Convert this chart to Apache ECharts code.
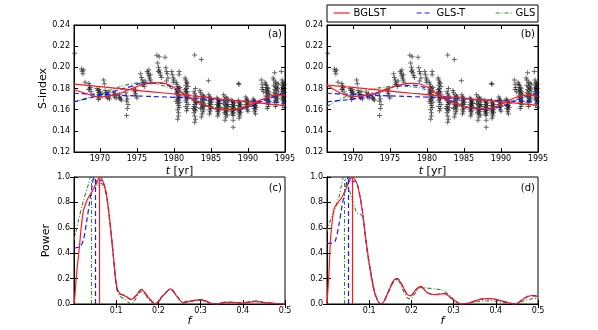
<!DOCTYPE html>
<html>
<head>
<meta charset="utf-8">
<script src="https://cdn.jsdelivr.net/npm/echarts@6/dist/echarts.min.js"></script>
<style>
html, body { margin: 0; padding: 0; background: #fff; }
#chart { width: 598px; height: 330px; }
</style>
</head>
<body>
<div id="chart"></div>
<script>
// ---- data ----
const yearTicks = [1970, 1975, 1980, 1985, 1990, 1995];
const freqTicks = [0.1, 0.2, 0.3, 0.4, 0.5];

// S-index observations (same in panels a and b)
const sIndexObs = [
  [1966.6,.2132],
  [1967.5,.1985],[1967.6,.1962],[1967.8,.1975],[1967.7,.1940],[1968.0,.1860],
  [1968.5,.1848],[1968.6,.1825],[1968.7,.1810],[1968.5,.1790],[1968.8,.1770],[1968.6,.1795],
  [1969.6,.1800],[1969.7,.1780],[1969.8,.1760],[1969.9,.1740],[1969.7,.1720],[1970.0,.1710],[1969.8,.1695],[1970.1,.1750],[1969.9,.1790],[1970.0,.1770],
  [1970.5,.1880],[1970.6,.1845],[1970.7,.1780],[1970.8,.1760],[1970.9,.1730],[1971.0,.1710],[1970.8,.1745],[1971.1,.1770],[1971.2,.1720],[1971.3,.1700],
  [1971.8,.1765],[1971.9,.1740],[1972.0,.1720],[1972.2,.1710],[1972.1,.1750],
  [1972.6,.1745],[1972.7,.1720],[1972.8,.1700],[1972.9,.1690],[1972.6,.1710],
  [1973.5,.1760],[1973.6,.1730],[1973.7,.1700],[1973.6,.1680],[1973.8,.1650],[1973.7,.1610],[1973.6,.1546],
  [1974.6,.1795],[1974.7,.1770],[1974.8,.1750],[1974.9,.1730],[1975.0,.1710],[1974.8,.1785],
  [1975.5,.1940],[1975.6,.1905],[1975.7,.1880],[1975.8,.1860],[1975.9,.1840],[1976.0,.1820],[1975.7,.1835],[1976.1,.1870],
  [1976.4,.1960],[1976.5,.1945],[1976.6,.1920],[1976.7,.1900],[1976.8,.1880],[1976.9,.1860],[1976.6,.1975],[1976.8,.1930],
  [1977.7,.2115],[1978.0,.2100],[1977.8,.2040],[1977.9,.2000],[1978.0,.1975],[1978.1,.1950],[1978.2,.1925],[1977.9,.1960],[1978.3,.1905],
  [1978.8,.2095],[1978.9,.1995],[1979.0,.1960],[1979.1,.1940],[1979.2,.1900],[1979.0,.1870],
  [1979.7,.1960],[1979.8,.1930],[1979.9,.1900],[1980.0,.1880],[1979.9,.1860],
  [1980.3,.1860],[1980.4,.1840],[1980.5,.1820],[1980.6,.1800],[1980.4,.1790],[1980.7,.1780],[1980.5,.1760],[1980.3,.1750],[1980.6,.1740],[1980.8,.1730],
  [1980.4,.1720],[1980.7,.1710],[1980.5,.1700],[1980.6,.1690],[1980.3,.1680],[1980.8,.1670],[1980.5,.1660],[1980.6,.1640],[1980.7,.1620],[1980.5,.1600],
  [1980.6,.1570],[1980.6,.1540],[1980.5,.1510],[1980.4,.1770],[1980.8,.1810],[1980.7,.1960],[1980.7,.1930],
  [1981.5,.1900],[1981.6,.1880],[1981.7,.1860],[1981.8,.1850],[1981.6,.1830],[1981.9,.1820],[1981.7,.1800],[1981.5,.1790],[1981.8,.1770],[1981.6,.1760],
  [1981.9,.1740],[1981.7,.1730],[1981.5,.1720],[1981.8,.1700],[1981.6,.1690],[1981.7,.1670],[1981.9,.1650],[1981.6,.1630],[1981.8,.1610],[1981.7,.1590],
  [1981.6,.1775],[1981.8,.1715],
  [1982.8,.2116],[1982.7,.1770],[1982.8,.1750],[1982.9,.1730],[1983.0,.1720],[1982.6,.1700],[1982.7,.1690],[1982.9,.1670],[1983.1,.1660],[1982.8,.1650],
  [1982.7,.1630],[1983.0,.1620],[1982.8,.1600],[1982.9,.1590],[1982.7,.1570],[1982.8,.1540],[1982.9,.1510],[1982.8,.1480],[1983.0,.1680],[1982.6,.1610],[1982.9,.1800],
  [1983.7,.2075],[1983.5,.1780],[1983.6,.1760],[1983.8,.1740],[1984.0,.1730],[1983.7,.1710],[1983.9,.1700],[1984.1,.1690],[1983.6,.1680],[1983.8,.1670],
  [1984.0,.1660],[1983.7,.1650],[1983.9,.1640],[1984.1,.1630],[1983.8,.1620],[1983.6,.1610],[1984.0,.1600],[1983.9,.1580],[1983.8,.1560],[1983.7,.1530],[1984.1,.1720],
  [1984.65,.1874],[1984.7,.1740],[1984.8,.1720],[1984.9,.1710],[1985.0,.1700],[1984.7,.1690],[1984.9,.1680],[1985.1,.1670],[1984.8,.1660],[1985.0,.1650],
  [1984.7,.1640],[1984.9,.1630],[1985.0,.1610],[1984.8,.1600],[1984.9,.1580],[1984.8,.1560],
  [1985.8,.1710],[1985.9,.1700],[1986.0,.1690],[1986.1,.1680],[1985.9,.1670],[1986.2,.1660],[1985.8,.1650],[1986.0,.1640],[1986.1,.1630],[1985.9,.1620],
  [1986.0,.1610],[1985.8,.1600],[1986.1,.1590],[1985.9,.1580],[1986.0,.1560],[1985.9,.1540],[1986.1,.1655],
  [1986.7,.1740],[1986.9,.1720],[1987.1,.1710],[1987.3,.1700],[1986.8,.1690],[1987.0,.1680],[1987.2,.1670],[1986.7,.1660],[1986.9,.1650],[1987.1,.1640],
  [1987.3,.1630],[1986.8,.1620],[1987.0,.1610],[1987.2,.1600],[1986.9,.1590],[1987.1,.1580],[1986.8,.1570],[1987.0,.1560],[1987.2,.1550],[1987.0,.1530],
  [1986.9,.1500],[1987.3,.1650],
  [1987.8,.1690],[1987.9,.1680],[1988.0,.1670],[1988.1,.1660],[1987.9,.1650],[1988.2,.1640],[1987.8,.1630],[1988.0,.1620],[1988.1,.1610],[1987.9,.1600],
  [1988.0,.1590],[1987.8,.1580],[1988.1,.1570],[1987.9,.1560],[1988.0,.1545],[1988.0,.1500],[1988.0,.1433],
  [1988.7,.1848],[1988.8,.1840],[1988.7,.1690],[1988.8,.1670],[1988.9,.1660],[1989.0,.1650],[1988.7,.1640],[1988.9,.1630],[1989.1,.1620],[1988.8,.1610],
  [1989.0,.1600],[1988.7,.1590],[1988.9,.1580],[1989.0,.1570],[1988.8,.1560],[1988.9,.1540],[1988.8,.1520],
  [1989.7,.1720],[1989.8,.1700],[1989.9,.1690],[1990.0,.1680],[1989.8,.1670],[1990.1,.1660],[1989.7,.1650],[1989.9,.1640],[1990.0,.1630],[1989.8,.1620],
  [1989.9,.1600],[1990.0,.1585],
  [1990.7,.1700],[1990.8,.1690],[1990.9,.1680],[1991.0,.1670],[1991.1,.1660],[1990.8,.1650],[1991.0,.1640],[1990.9,.1630],[1991.1,.1620],[1990.8,.1610],
  [1991.0,.1600],[1990.9,.1580],[1991.0,.1560],
  [1991.8,.1880],[1991.9,.1840],[1992.0,.1810],[1991.9,.1790],[1992.1,.1770],
  [1992.3,.1860],[1992.4,.1840],[1992.5,.1830],[1992.6,.1810],[1992.7,.1800],[1992.4,.1790],[1992.6,.1780],[1992.8,.1770],[1992.5,.1760],[1992.7,.1750],
  [1992.9,.1740],[1992.4,.1730],[1992.6,.1720],[1992.8,.1710],[1992.5,.1700],[1992.7,.1690],[1992.9,.1680],[1992.6,.1670],[1992.8,.1650],[1992.7,.1630],[1992.6,.1610],
  [1993.6,.1950],[1993.4,.1900],[1993.5,.1880],[1993.7,.1860],[1993.9,.1850],[1994.1,.1840],[1993.5,.1830],[1993.7,.1820],[1993.9,.1810],[1994.0,.1800],
  [1993.6,.1790],[1993.8,.1780],[1994.1,.1770],[1993.5,.1760],[1993.7,.1750],[1993.9,.1740],[1994.0,.1730],[1993.6,.1720],[1993.8,.1710],[1994.0,.1700],
  [1993.7,.1690],[1993.9,.1680],[1993.6,.1670],[1993.8,.1650],[1993.7,.1630],
  [1994.5,.1960],[1994.6,.1880],[1994.7,.1860],[1994.8,.1850],[1994.9,.1840],[1994.6,.1830],[1994.8,.1820],[1994.7,.1810],[1994.9,.1800],[1994.6,.1790],
  [1994.8,.1780],[1994.7,.1770],[1994.9,.1760],[1994.6,.1750],[1994.8,.1740],[1994.7,.1730],[1994.9,.1720],[1994.6,.1710],[1994.8,.1700],[1994.7,.1690],
  [1994.9,.1680],[1994.8,.1660],[1994.7,.1640],[1994.9,.1620]
];

// fitted models, sampled at these years
const fitYears = [1966.5, 1968, 1970, 1972, 1974, 1976, 1978, 1980, 1982, 1984, 1986, 1988, 1990, 1992, 1994, 1995];
// panel (a)
const bglstA      = [0.1790, 0.1755, 0.1720, 0.1740, 0.1790, 0.1840, 0.1855, 0.1810, 0.1720, 0.1650, 0.1605, 0.1600, 0.1640, 0.1700, 0.1740, 0.1738];
const bglstTrendA = [0.1842, 0.1832, 0.1818, 0.1804, 0.1790, 0.1776, 0.1762, 0.1748, 0.1734, 0.1718, 0.1702, 0.1688, 0.1674, 0.1660, 0.1646, 0.1640];
const glstA       = [0.1675, 0.1700, 0.1735, 0.1775, 0.1815, 0.1850, 0.1850, 0.1800, 0.1720, 0.1650, 0.1605, 0.1600, 0.1625, 0.1680, 0.1735, 0.1765];
const glstTrendA  = [0.1755, 0.1750, 0.1745, 0.1738, 0.1732, 0.1727, 0.1722, 0.1717, 0.1710, 0.1700, 0.1692, 0.1685, 0.1680, 0.1675, 0.1668, 0.1665];
const glsA        = [0.1670, 0.1705, 0.1750, 0.1800, 0.1840, 0.1855, 0.1835, 0.1790, 0.1720, 0.1660, 0.1620, 0.1615, 0.1640, 0.1690, 0.1740, 0.1760];
// panel (b)
const bglstB      = [0.1833, 0.1770, 0.1725, 0.1738, 0.1780, 0.1828, 0.1848, 0.1815, 0.1715, 0.1655, 0.1618, 0.1610, 0.1650, 0.1715, 0.1738, 0.1725];
const bglstTrendB = [0.1833, 0.1823, 0.1810, 0.1796, 0.1783, 0.1769, 0.1755, 0.1742, 0.1728, 0.1715, 0.1701, 0.1688, 0.1674, 0.1661, 0.1647, 0.1640];
const glstB       = [0.1675, 0.1685, 0.1700, 0.1725, 0.1775, 0.1820, 0.1830, 0.1800, 0.1730, 0.1660, 0.1615, 0.1605, 0.1630, 0.1685, 0.1740, 0.1760];
const glstTrendB  = [0.1755, 0.1750, 0.1745, 0.1738, 0.1733, 0.1728, 0.1723, 0.1718, 0.1712, 0.1705, 0.1698, 0.1692, 0.1686, 0.1680, 0.1674, 0.1671];
const glsB        = [0.1630, 0.1690, 0.1745, 0.1785, 0.1810, 0.1822, 0.1815, 0.1785, 0.1720, 0.1660, 0.1620, 0.1612, 0.1635, 0.1690, 0.1740, 0.1755];

// periodograms [f, power]
const bglstPowC = [[0,0],[0.002,0.06],[0.0064,0.25],[0.0125,0.44],[0.017,0.6],[0.022,0.73],[0.03,0.81],[0.036,0.85],[0.042,0.88],[0.048,0.92],[0.054,0.96],[0.0615,1.0],[0.069,0.96],[0.077,0.86],[0.085,0.65],[0.093,0.39],[0.101,0.14],[0.109,0.08],[0.117,0.07],[0.125,0.055],[0.136,0.035],[0.148,0.07],[0.16,0.115],[0.172,0.07],[0.182,0.03],[0.193,0],[0.205,0.045],[0.215,0.08],[0.229,0.12],[0.244,0.06],[0.259,0.01],[0.275,0.02],[0.29,0.03],[0.3,0.033],[0.31,0.027],[0.322,0.008],[0.338,0],[0.36,0.013],[0.38,0.012],[0.4,0.008],[0.416,0.016],[0.432,0.021],[0.448,0.013],[0.472,0.005],[0.5,0]];
const glstPowC  = [[0,0.44],[0.008,0.445],[0.0142,0.45],[0.022,0.5],[0.03,0.65],[0.036,0.78],[0.042,0.91],[0.0475,1.0],[0.052,0.97],[0.0575,0.94],[0.063,0.975],[0.069,0.96],[0.077,0.86],[0.085,0.65],[0.093,0.39],[0.101,0.13],[0.109,0.08],[0.117,0.07],[0.125,0.055],[0.136,0.035],[0.148,0.07],[0.16,0.115],[0.172,0.07],[0.182,0.03],[0.193,0],[0.205,0.045],[0.215,0.08],[0.229,0.12],[0.244,0.06],[0.259,0.01],[0.275,0.02],[0.29,0.03],[0.3,0.035],[0.31,0.028],[0.322,0.008],[0.338,0],[0.36,0.015],[0.38,0.013],[0.4,0.009],[0.416,0.017],[0.432,0.022],[0.448,0.013],[0.472,0.005],[0.5,0]];
const glsPowC   = [[0,0.5],[0.01,0.65],[0.022,0.81],[0.034,0.94],[0.0395,1.0],[0.045,0.99],[0.05,0.97],[0.055,0.93],[0.06,0.94],[0.065,0.95],[0.07,0.93],[0.077,0.85],[0.085,0.64],[0.093,0.38],[0.101,0.12],[0.109,0.06],[0.12,0.04],[0.13,0.01],[0.136,0],[0.148,0.05],[0.16,0.1],[0.172,0.06],[0.185,0.01],[0.195,0],[0.21,0.06],[0.228,0.115],[0.244,0.06],[0.258,0.015],[0.27,0.025],[0.28,0.03],[0.3,0.03],[0.32,0.01],[0.338,0],[0.36,0.012],[0.38,0.01],[0.4,0.008],[0.43,0.018],[0.45,0.01],[0.5,0]];
const bglstPowD = [[0,0],[0.0047,0.25],[0.0086,0.52],[0.0166,0.75],[0.0245,0.79],[0.036,0.845],[0.044,0.9],[0.052,0.96],[0.06,1.0],[0.066,0.98],[0.072,0.94],[0.078,0.85],[0.084,0.73],[0.0917,0.52],[0.0996,0.33],[0.1075,0.18],[0.115,0.07],[0.127,0],[0.135,0.02],[0.147,0.11],[0.159,0.19],[0.1668,0.197],[0.1786,0.144],[0.19,0.075],[0.198,0.065],[0.21,0.11],[0.222,0.139],[0.238,0.087],[0.2576,0.074],[0.2775,0.082],[0.297,0.04],[0.317,0],[0.337,0.008],[0.3605,0.034],[0.384,0.042],[0.408,0.029],[0.4317,0.008],[0.447,0],[0.463,0.034],[0.483,0.065],[0.5,0.06]];
const glstPowD  = [[0,0.477],[0.0126,0.48],[0.02,0.5],[0.028,0.62],[0.036,0.78],[0.044,0.91],[0.0505,1.0],[0.056,0.98],[0.061,0.96],[0.066,0.97],[0.072,0.94],[0.078,0.85],[0.084,0.73],[0.0917,0.52],[0.0996,0.33],[0.1075,0.18],[0.115,0.07],[0.127,0],[0.135,0.02],[0.147,0.11],[0.159,0.19],[0.1668,0.2],[0.1786,0.145],[0.19,0.075],[0.198,0.065],[0.21,0.11],[0.222,0.14],[0.238,0.088],[0.2576,0.075],[0.2775,0.083],[0.297,0.04],[0.317,0],[0.337,0.008],[0.3605,0.035],[0.384,0.043],[0.408,0.03],[0.4317,0.008],[0.447,0],[0.463,0.035],[0.483,0.068],[0.5,0.062]];
const glsPowD   = [[0,0.57],[0.008,0.66],[0.0166,0.73],[0.028,0.84],[0.034,0.93],[0.0395,1.0],[0.045,0.97],[0.052,0.91],[0.058,0.84],[0.064,0.78],[0.07,0.72],[0.078,0.71],[0.085,0.68],[0.0917,0.5],[0.0996,0.31],[0.1075,0.16],[0.115,0.06],[0.127,0],[0.135,0.02],[0.147,0.1],[0.159,0.18],[0.1668,0.19],[0.1786,0.12],[0.19,0.05],[0.198,0.04],[0.21,0.09],[0.222,0.13],[0.238,0.125],[0.2576,0.118],[0.274,0.11],[0.29,0.07],[0.305,0.02],[0.317,0],[0.337,0.005],[0.36,0.02],[0.384,0.025],[0.408,0.02],[0.43,0.005],[0.447,0],[0.463,0.02],[0.483,0.04],[0.5,0.045]];

// peak frequencies [BGLST, GLS-T, GLS]
const peaksC = [0.0615, 0.048, 0.0395];
const peaksD = [0.0605, 0.0505, 0.0405];

// ---- styling ----
const FONT = 'DejaVu Sans';
const RED = '#ff1a1a', BLUE = '#1a1aff', GREEN = '#2a8a2a';
const styles = {
  BGLST:  { color: RED,   type: 'solid', width: 1.2 },
  'GLS-T':{ color: BLUE,  type: [5, 3],  width: 1.2 },
  GLS:    { color: GREEN, type: [4, 2, 1, 2], width: 1.1 }
};
const grids = [
  { left: 74,  top: 25,  width: 211, height: 127 },
  { left: 327, top: 25,  width: 211, height: 127 },
  { left: 74,  top: 177, width: 211, height: 127 },
  { left: 327, top: 177, width: 211, height: 127 }
];

const tickStyle = { inside: true, length: 4, lineStyle: { color: '#000' } };
const lineAxis = { show: true, lineStyle: { color: '#000', width: 1 } };
const lbl = { color: '#000', fontSize: 8, fontFamily: FONT };

let xAxes = [], yAxes = [];
function addAxes(g, isTime, yName) {
  const xBase = {
    gridIndex: g, type: 'value',
    min: isTime ? 1966.5 : 0, max: isTime ? 1995 : 0.5,
    splitLine: { show: false }, axisLine: lineAxis
  };
  const ticks = isTime ? yearTicks : freqTicks;
  xAxes.push(Object.assign({}, xBase, {
    position: 'bottom',
    axisTick: Object.assign({ customValues: ticks }, tickStyle),
    axisLabel: Object.assign({ customValues: ticks, margin: 3,
      formatter: v => isTime ? String(Math.round(v)) : String(+v.toFixed(1)) }, lbl),
    name: isTime ? '{i|t} [yr]' : '{i|f}',
    nameLocation: 'middle', nameGap: isTime ? 14 : 10,
    nameTextStyle: { color: '#000', fontSize: 11, fontFamily: FONT,
      padding: isTime ? 0 : [0, 0, 0, 20],
      rich: { i: { fontStyle: 'italic', fontSize: 11, fontFamily: FONT } } }
  }));
  xAxes.push(Object.assign({}, xBase, {
    position: 'top',
    axisTick: Object.assign({ customValues: ticks }, tickStyle),
    axisLabel: { show: false }
  }));
  const yBase = {
    gridIndex: g, type: 'value',
    min: isTime ? 0.12 : 0, max: isTime ? 0.24 : 1, interval: isTime ? 0.02 : 0.2,
    splitLine: { show: false }, axisLine: lineAxis, axisTick: tickStyle
  };
  yAxes.push(Object.assign({}, yBase, {
    position: 'left',
    axisLabel: Object.assign({ margin: 4, formatter: v => v.toFixed(isTime ? 2 : 1) }, lbl),
    name: yName, nameLocation: 'middle', nameGap: 22,
    nameTextStyle: { color: '#000', fontSize: 11, fontFamily: FONT }
  }));
  yAxes.push(Object.assign({}, yBase, { position: 'right', axisLabel: { show: false } }));
}
addAxes(0, true, 'S-index');
addAxes(1, true, '');
addAxes(2, false, 'Power');
addAxes(3, false, '');

function pairs(ys) { return fitYears.map((t, i) => [t, ys[i]]); }

const series = [];
function lineSeries(name, g, data, smooth, peak) {
  const st = styles[name];
  const s = {
    name: name, type: 'line', xAxisIndex: g * 2, yAxisIndex: g * 2,
    data: data, symbol: 'none', smooth: smooth, clip: true,
    lineStyle: { color: st.color, type: st.type, width: st.width },
    itemStyle: { color: st.color }
  };
  if (peak !== undefined) {
    s.markLine = {
      silent: true, symbol: 'none', label: { show: false }, animation: false,
      lineStyle: { color: st.color, type: st.type, width: st.width },
      data: [{ xAxis: peak }]
    };
  }
  series.push(s);
}

[0, 1].forEach(g => {
  series.push({
    type: 'scatter', xAxisIndex: g * 2, yAxisIndex: g * 2, data: sIndexObs,
    symbol: 'path://M2,0h1v2h2v1h-2v2h-1v-2h-2v-1h2z', symbolSize: 5,
    itemStyle: { color: 'rgba(0,0,0,0.75)' }, silent: true
  });
});
lineSeries('GLS', 0, pairs(glsA), true);
lineSeries('GLS-T', 0, pairs(glstA), true);
lineSeries('GLS-T', 0, pairs(glstTrendA), true);
lineSeries('BGLST', 0, pairs(bglstA), true);
lineSeries('BGLST', 0, pairs(bglstTrendA), true);
lineSeries('GLS', 1, pairs(glsB), true);
lineSeries('GLS-T', 1, pairs(glstB), true);
lineSeries('GLS-T', 1, pairs(glstTrendB), true);
lineSeries('BGLST', 1, pairs(bglstB), true);
lineSeries('BGLST', 1, pairs(bglstTrendB), true);
lineSeries('GLS', 2, glsPowC, 0.3, peaksC[2]);
lineSeries('GLS-T', 2, glstPowC, 0.3, peaksC[1]);
lineSeries('BGLST', 2, bglstPowC, 0.3, peaksC[0]);
lineSeries('GLS', 3, glsPowD, 0.3, peaksD[2]);
lineSeries('GLS-T', 3, glstPowD, 0.3, peaksD[1]);
lineSeries('BGLST', 3, bglstPowD, 0.3, peaksD[0]);

const legendBase = {
  top: 8, padding: 0, itemWidth: 16, itemHeight: 10, itemGap: 0, selectedMode: false,
  itemStyle: { opacity: 0 },
  lineStyle: { width: 1.2 },
  textStyle: { color: '#000', fontSize: 10, fontFamily: FONT, padding: [0, 0, 0, -1] }
};
const panelLabel = (txt, x, y) => ({
  type: 'text', x: x, y: y, silent: true,
  style: { text: txt, fontSize: 10, fontFamily: FONT, fill: '#000', align: 'right', verticalAlign: 'middle' }
});

const chart = echarts.init(document.getElementById('chart'), null, { renderer: 'canvas' });
chart.setOption({
  animation: false,
  backgroundColor: '#fff',
  textStyle: { fontFamily: FONT },
  grid: grids.map(g => Object.assign({ show: true, borderColor: '#000', borderWidth: 1, backgroundColor: 'transparent' }, g)),
  xAxis: xAxes,
  yAxis: yAxes,
  legend: [
    Object.assign({ data: ['BGLST'], left: 333 }, legendBase),
    Object.assign({ data: ['GLS-T'], left: 416 }, legendBase),
    Object.assign({ data: ['GLS'], left: 495 }, legendBase)
  ],
  graphic: [
    { type: 'rect', shape: { x: 327, y: 5, width: 211, height: 17 }, silent: true,
      style: { fill: 'none', stroke: '#000', lineWidth: 1 } },
    panelLabel('(a)', 282, 34),
    panelLabel('(b)', 535, 34),
    panelLabel('(c)', 282, 188),
    panelLabel('(d)', 535, 188)
  ],
  series: series
});
</script>
</body>
</html>
